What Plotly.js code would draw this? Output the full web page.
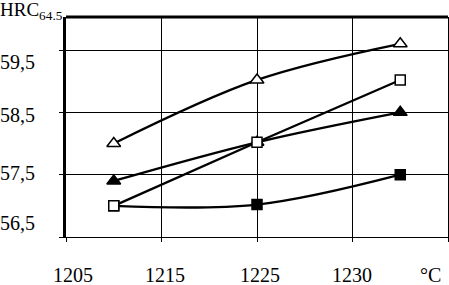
<!DOCTYPE html>
<html><head><meta charset="utf-8">
<script src="https://cdn.plot.ly/plotly-3.0.1.min.js"></script>
<style>html,body{margin:0;padding:0;background:#fff}</style>
</head><body><div id="chart" style="width:449px;height:285px"></div>
<script>
// Category axis labels (equally spaced positions 0..4)
const xTickLabels = ['1205', '1215', '1225', '1230', '\u00B0C'];
const yTickLabels = ['56,5', '57,5', '58,5', '59,5'];
const yTickVals = [56.5, 57.5, 58.5, 59.5];
// Measurement positions on the category axis
const xPoints = [0.5, 2, 3.5];
// Series (HRC values)
const openTriangle = [58.0, 59.02, 59.6];
const openSquare = [57.0, 58.02, 59.02];
const filledTriangle = [57.4, 58.02, 58.5];
const filledSquare = [57.0, 57.02, 57.5];

// label placement (pixel-derived, paper coords)
const L = 66, T = 17, W = 382, H = 220;
const px = x => (x - L) / W;
const py = y => (T + H - y) / H;
const yLabelCenters = [223, 173, 115, 62];
const xLabelCenters = [73, 165, 260, 352, 430];

const font = {family: 'Liberation Serif', size: 20, color: '#000'};

function tr(y, symbol, fill, size) {
  return {x: xPoints, y: y, type: 'scatter', mode: 'lines+markers',
    line: {color: '#000', width: 2.3, shape: 'spline', smoothing: 1},
    marker: {symbol: symbol, size: size, color: fill, line: {color: '#000', width: 1.5}},
    showlegend: false, hoverinfo: 'skip'};
}
const data = [
  tr(filledSquare, 'square', '#000', 10),
  tr(filledTriangle, 'triangle-up', '#000', 12),
  tr(openSquare, 'square', '#fff', 10),
  tr(openTriangle, 'triangle-up', '#fff', 12)
];

const annotations = [];
yTickLabels.forEach((t, i) => annotations.push({text: t, xref: 'paper', yref: 'paper',
  x: px(36), y: py(yLabelCenters[i]), xanchor: 'right', yanchor: 'middle', showarrow: false,
  borderpad: 0, font: font}));
xTickLabels.forEach((t, i) => annotations.push({text: t, xref: 'paper', yref: 'paper',
  x: px(xLabelCenters[i]), y: py(274.5), xanchor: 'center', yanchor: 'middle', showarrow: false,
  borderpad: 0, font: font}));
annotations.push({text: 'HRC<sub>64.5</sub>', xref: 'paper', yref: 'paper', x: px(-1), y: py(-2),
  xanchor: 'left', yanchor: 'top', showarrow: false, borderpad: 0,
  font: {family: font.family, size: 19, color: '#000'}});

const layout = {
  width: 449, height: 285,
  font: {family: 'Liberation Serif', color: '#000'},
  margin: {l: L, r: 1, t: T, b: 48, pad: 0},
  paper_bgcolor: '#fff', plot_bgcolor: '#fff',
  xaxis: {range: [0, 4], tickvals: [0, 1, 2, 3, 4], showticklabels: false,
    showgrid: true, gridcolor: '#000', gridwidth: 1, zeroline: false,
    showline: true, linecolor: '#000', linewidth: 1,
    ticks: 'outside', ticklen: 4, tickcolor: '#000', tickwidth: 1, fixedrange: true},
  yaxis: {range: [56.5, 60.03], tickvals: yTickVals, showticklabels: false,
    showgrid: true, gridcolor: '#000', gridwidth: 1, zeroline: false,
    showline: true, mirror: true, linecolor: '#000', linewidth: 3,
    ticks: 'outside', ticklen: 4, tickcolor: '#000', tickwidth: 1, fixedrange: true},
  shapes: [{type: 'line', xref: 'paper', yref: 'paper', x0: 0, x1: 1, y0: 1, y1: 1,
    line: {color: '#000', width: 3}}],
  annotations: annotations
};
Plotly.newPlot('chart', data, layout, {displayModeBar: false, staticPlot: true});
</script></body></html>
